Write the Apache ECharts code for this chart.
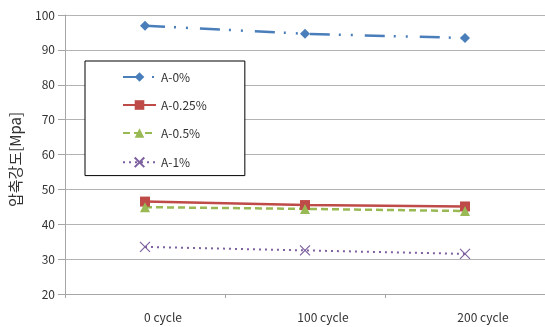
<!DOCTYPE html>
<html>
<head>
<meta charset="utf-8">
<script src="https://cdn.jsdelivr.net/npm/echarts@6/dist/echarts.min.js"></script>
<style>
  html, body { margin: 0; padding: 0; background: #fff; }
  #chart { width: 545px; height: 327px; }
</style>
</head>
<body>
<div id="chart"></div>
<script>
// Compressive strength after freeze-thaw cycles
const categories = ['0 cycle', '100 cycle', '200 cycle'];
const seriesNames = ['A-0%', 'A-0.25%', 'A-0.5%', 'A-1%'];
const a0 = [96.9, 94.6, 93.4];
const a025 = [46.5, 45.5, 45.1];
const a05 = [44.9, 44.4, 43.8];
const a1 = [33.5, 32.5, 31.5];
const yTicks = { min: 20, max: 100, interval: 10 };

const crossPath = 'path://M0,0L10,10M10,0L0,10';

const chart = echarts.init(document.getElementById('chart'), null, { renderer: 'canvas' });
const font = '"Noto Sans CJK KR", "Noto Sans", sans-serif';

chart.setOption({
  animation: false,
  backgroundColor: '#ffffff',
  textStyle: { fontFamily: font },
  grid: { left: 65, top: 15, right: -3, bottom: 33, containLabel: false },
  legend: {
    orient: 'vertical',
    left: 85,
    top: 61,
    padding: [10, 38, 6, 37],
    itemWidth: 33,
    itemHeight: 12,
    itemGap: 16,
    borderColor: '#000000',
    borderWidth: 1,
    backgroundColor: '#ffffff',
    textStyle: { fontSize: 12, color: '#333333', fontFamily: font },
    data: seriesNames
  },
  xAxis: {
    type: 'category',
    data: categories,
    boundaryGap: true,
    axisLine: { lineStyle: { color: '#a6a6a6', width: 1 } },
    axisTick: { show: true, length: 4, lineStyle: { color: '#a6a6a6' } },
    axisLabel: { color: '#333333', fontSize: 12, margin: 17, fontFamily: font, padding: [0, 0, 0, 36] },
    splitLine: { show: false }
  },
  yAxis: {
    type: 'value',
    min: yTicks.min,
    max: yTicks.max,
    interval: yTicks.interval,
    name: '압축강도[Mpa]',
    nameLocation: 'middle',
    nameGap: 42,
    nameRotate: 90,
    nameTextStyle: { fontSize: 15, color: '#333333', fontFamily: font, padding: [0, 0, 0, -10] },
    axisLine: { show: true, lineStyle: { color: '#a6a6a6', width: 1 } },
    axisTick: { show: true, length: 7, lineStyle: { color: '#a6a6a6' } },
    axisLabel: { color: '#333333', fontSize: 12, margin: 10, fontFamily: font },
    splitLine: { show: true, lineStyle: { color: '#b4b4b4', width: 1 } }
  },
  series: [
    {
      name: seriesNames[0], type: 'line', data: a0,
      symbol: 'diamond', symbolSize: 10,
      itemStyle: { color: '#4a7ebb' },
      lineStyle: { color: '#4a7ebb', width: 2.5, type: [20, 9, 2, 10, 2, 12] }
    },
    {
      name: seriesNames[1], type: 'line', data: a025,
      symbol: 'rect', symbolSize: 10,
      itemStyle: { color: '#be4b48' },
      lineStyle: { color: '#be4b48', width: 2.5, type: 'solid' }
    },
    {
      name: seriesNames[2], type: 'line', data: a05,
      symbol: 'triangle', symbolSize: 10,
      itemStyle: { color: '#98b954' },
      lineStyle: { color: '#98b954', width: 2.5, type: [7, 4] }
    },
    {
      name: seriesNames[3], type: 'line', data: a1,
      symbol: crossPath, symbolSize: 10,
      itemStyle: { color: 'none', borderColor: '#7d60a0', borderWidth: 1.2 },
      lineStyle: { color: '#7d60a0', width: 2, type: [2, 4] }
    }
  ]
});
</script>
</body>
</html>
